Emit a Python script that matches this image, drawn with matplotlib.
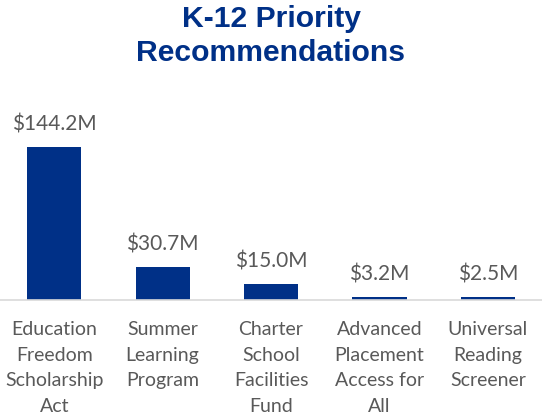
import matplotlib.pyplot as plt

categories = ["Education\nFreedom\nScholarship\nAct", "Summer\nLearning\nProgram",
              "Charter\nSchool\nFacilities\nFund", "Advanced\nPlacement\nAccess for\nAll",
              "Universal\nReading\nScreener"]
values = [144.2, 30.7, 15.0, 3.2, 2.5]
value_labels = ["$144.2M", "$30.7M", "$15.0M", "$3.2M", "$2.5M"]

navy = "#003087"
gray_text = "#595959"

fig = plt.figure(figsize=(5.42, 4.18), dpi=100)
ax = fig.add_axes([0, 1 - 300 / 418, 1, 190 / 418])

x = range(len(values))
ax.bar(x, values, width=0.5, color=navy)
ax.set_xlim(-0.5, len(values) - 0.5)
ax.set_ylim(0, 179)

for i, (v, lab) in enumerate(zip(values, value_labels)):
    ax.annotate(lab, (i, v), xytext=(0, 9), textcoords="offset points",
                ha="center", va="bottom", fontsize=15, color=gray_text, family="Lato")

ax.set_xticks(list(x))
ax.set_xticklabels(categories, fontsize=14, color=gray_text, family="Lato", linespacing=1.62)
ax.tick_params(axis="x", length=0, pad=15)
ax.set_yticks([])
for s in ["top", "left", "right"]:
    ax.spines[s].set_visible(False)
ax.spines["bottom"].set_color("#d9d9d9")
ax.spines["bottom"].set_linewidth(1.2)

fig.text(0.5, 1 - 36 / 418, "K-12 Priority\nRecommendations", ha="center", va="center",
         fontsize=21.7, fontweight="bold", color=navy, family="Liberation Sans", linespacing=1.3)

fig.savefig("out.png", dpi=100)
